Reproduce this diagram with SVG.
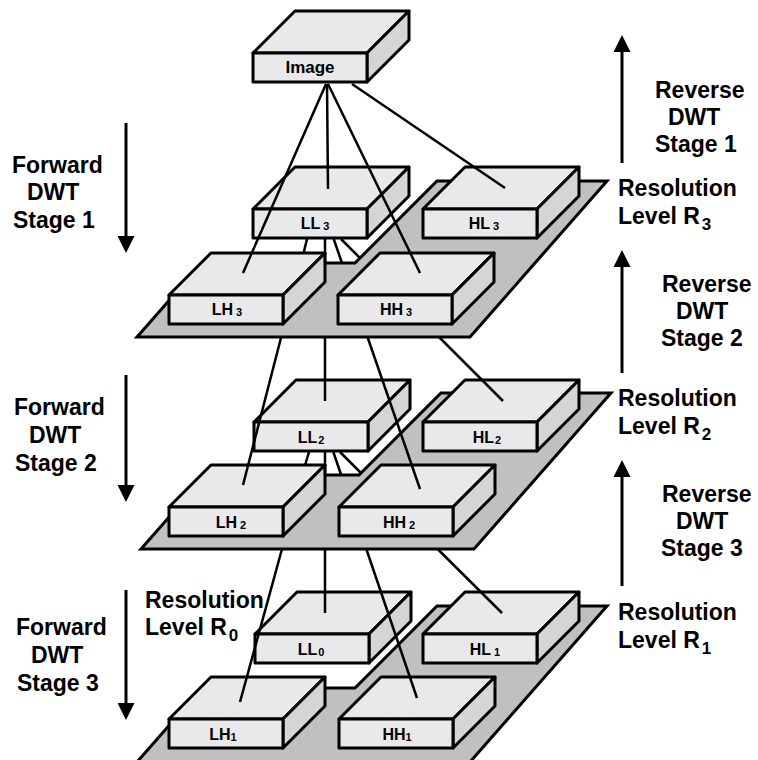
<svg xmlns="http://www.w3.org/2000/svg" width="758" height="760" viewBox="0 0 758 760">
<defs>
<style>
.face{fill:#E9E8EA;stroke:#000;stroke-width:3;stroke-linejoin:round}
.side{fill:#D5D5D5;stroke:#000;stroke-width:3;stroke-linejoin:round}
.plat{fill:#C0C0C0;stroke:#000;stroke-width:3;stroke-linejoin:miter}
.conn line{stroke:#000;stroke-width:2.5;fill:none}
.arr{stroke:#000;stroke-width:3;fill:none}
text{font-family:"Liberation Sans",Arial,Helvetica,sans-serif;font-weight:bold;fill:#000}
.lbl{font-size:23px}
.bx{font-size:16px;text-anchor:middle}
.sub{font-size:11px}
.rsub{font-size:17px}
</style>
<marker id="ah" viewBox="0 0 17 17" refX="8" refY="8.5" markerWidth="17" markerHeight="17" markerUnits="userSpaceOnUse" orient="auto">
<path d="M0,0 L17,8.5 L0,17 z" fill="#000"/>
</marker>
</defs>
<rect width="758" height="760" fill="#fff"/>

<g id="labels">
<text class="lbl" x="12" y="173">Forward</text>
<text class="lbl" x="27" y="200">DWT</text>
<text class="lbl" x="13" y="228">Stage 1</text>
<text class="lbl" x="14" y="415">Forward</text>
<text class="lbl" x="29" y="443">DWT</text>
<text class="lbl" x="15" y="471">Stage 2</text>
<text class="lbl" x="16" y="635">Forward</text>
<text class="lbl" x="31" y="663">DWT</text>
<text class="lbl" x="17" y="691">Stage 3</text>
<text class="lbl" x="655" y="98">Reverse</text>
<text class="lbl" x="668" y="125">DWT</text>
<text class="lbl" x="655" y="152">Stage 1</text>
<text class="lbl" x="662" y="292">Reverse</text>
<text class="lbl" x="676" y="319">DWT</text>
<text class="lbl" x="661" y="346">Stage 2</text>
<text class="lbl" x="662" y="502">Reverse</text>
<text class="lbl" x="676" y="529">DWT</text>
<text class="lbl" x="661" y="556">Stage 3</text>
<text class="lbl" x="618" y="196">Resolution</text>
<text class="lbl" x="618" y="224">Level R<tspan class="rsub" dx="2" dy="6">3</tspan></text>
<text class="lbl" x="618" y="406">Resolution</text>
<text class="lbl" x="618" y="434">Level R<tspan class="rsub" dx="2" dy="6">2</tspan></text>
<text class="lbl" x="618" y="620">Resolution</text>
<text class="lbl" x="618" y="648">Level R<tspan class="rsub" dx="2" dy="6">1</tspan></text>
<text class="lbl" x="145" y="608">Resolution</text>
<text class="lbl" x="145" y="635">Level R<tspan class="rsub" dx="2" dy="6">0</tspan></text>
</g>

<g id="arrows">
<line class="arr" x1="126" y1="123" x2="126" y2="244" marker-end="url(#ah)"/>
<line class="arr" x1="126" y1="375" x2="126" y2="493" marker-end="url(#ah)"/>
<line class="arr" x1="126" y1="590" x2="126" y2="711" marker-end="url(#ah)"/>
<line class="arr" x1="622" y1="163" x2="622" y2="44" marker-end="url(#ah)"/>
<line class="arr" x1="622" y1="373" x2="622" y2="259" marker-end="url(#ah)"/>
<line class="arr" x1="622" y1="586" x2="622" y2="469" marker-end="url(#ah)"/>
</g>

<g id="level1">
<polygon id="platform1" class="plat" points="137,762 470,762 607,606 437,606 355,688 202,688"/>
<g id="LL0">
<polygon class="face" points="255,634 297,592 411,592 369,634"/>
<polygon class="side" points="369,634 411,592 411,621 369,663"/>
<rect class="face" x="255" y="634" width="114" height="29"/>
<text class="bx" x="311" y="655">LL<tspan class="sub" dx="1" dy="1">0</tspan></text>
</g>
<g id="HL1">
<polygon class="face" points="423,634 465,592 579,592 537,634"/>
<polygon class="side" points="537,634 579,592 579,621 537,663"/>
<rect class="face" x="423" y="634" width="114" height="29"/>
<text class="bx" x="485" y="655">HL<tspan class="sub" dx="3" dy="1">1</tspan></text>
</g>
<g id="LH1">
<polygon class="face" points="169,719 211,677 325,677 283,719"/>
<polygon class="side" points="283,719 325,677 325,706 283,748"/>
<rect class="face" x="169" y="719" width="114" height="29"/>
<text class="bx" x="223" y="740">LH<tspan class="sub" dx="0" dy="1">1</tspan></text>
</g>
<g id="HH1">
<polygon class="face" points="339,719 381,677 495,677 453,719"/>
<polygon class="side" points="453,719 495,677 495,706 453,748"/>
<rect class="face" x="339" y="719" width="114" height="29"/>
<text class="bx" x="397" y="740">HH<tspan class="sub" dx="0" dy="1">1</tspan></text>
</g>
</g>

<g id="level2">
<polygon id="platform2" class="plat" points="141,549 474,549 611,393 441,393 359,475 206,475"/>
<g id="LL2">
<polygon class="face" points="254,422 296,380 410,380 368,422"/>
<polygon class="side" points="368,422 410,380 410,409 368,451"/>
<rect class="face" x="254" y="422" width="114" height="29"/>
<text class="bx" x="311" y="443">LL<tspan class="sub" dx="1" dy="1">2</tspan></text>
</g>
<g id="HL2">
<polygon class="face" points="423,422 465,380 579,380 537,422"/>
<polygon class="side" points="537,422 579,380 579,409 537,451"/>
<rect class="face" x="423" y="422" width="114" height="29"/>
<text class="bx" x="487" y="443">HL<tspan class="sub" dx="1" dy="1">2</tspan></text>
</g>
<g id="LH2">
<polygon class="face" points="169,507 211,465 325,465 283,507"/>
<polygon class="side" points="283,507 325,465 325,494 283,536"/>
<rect class="face" x="169" y="507" width="114" height="29"/>
<text class="bx" x="231" y="528">LH<tspan class="sub" dx="3" dy="1">2</tspan></text>
</g>
<g id="HH2">
<polygon class="face" points="339,507 381,465 495,465 453,507"/>
<polygon class="side" points="453,507 495,465 495,494 453,536"/>
<rect class="face" x="339" y="507" width="114" height="29"/>
<text class="bx" x="399" y="528">HH<tspan class="sub" dx="3" dy="1">2</tspan></text>
</g>
</g>

<g id="level3">
<polygon id="platform3" class="plat" points="137,337 470,337 607,181 437,181 355,263 202,263"/>
<g id="LL3">
<polygon class="face" points="253,209 295,167 409,167 367,209"/>
<polygon class="side" points="367,209 409,167 409,196 367,238"/>
<rect class="face" x="253" y="209" width="114" height="29"/>
<text class="bx" x="315" y="229">LL<tspan class="sub" dx="3" dy="1">3</tspan></text>
</g>
<g id="HL3">
<polygon class="face" points="423,209 465,167 579,167 537,209"/>
<polygon class="side" points="537,209 579,167 579,196 537,238"/>
<rect class="face" x="423" y="209" width="114" height="29"/>
<text class="bx" x="484" y="229">HL<tspan class="sub" dx="3" dy="1">3</tspan></text>
</g>
<g id="LH3">
<polygon class="face" points="169,295 211,253 325,253 283,295"/>
<polygon class="side" points="283,295 325,253 325,282 283,324"/>
<rect class="face" x="169" y="295" width="114" height="29"/>
<text class="bx" x="227" y="315">LH<tspan class="sub" dx="3" dy="1">3</tspan></text>
</g>
<g id="HH3">
<polygon class="face" points="338,295 380,253 494,253 452,295"/>
<polygon class="side" points="452,295 494,253 494,282 452,324"/>
<rect class="face" x="338" y="295" width="114" height="29"/>
<text class="bx" x="396" y="315">HH<tspan class="sub" dx="3" dy="1">3</tspan></text>
</g>
</g>

<g id="Image">
<polygon class="face" points="253,53 295,11 409,11 367,53"/>
<polygon class="side" points="367,53 409,11 409,40 367,82"/>
<rect class="face" x="253" y="53" width="114" height="29"/>
<text x="310" y="73" style="font-size:17px;text-anchor:middle">Image</text>
</g>

<g id="connectors" class="conn">
<line x1="326" y1="84" x2="243" y2="273"/>
<line x1="327" y1="84" x2="328" y2="189"/>
<line x1="328" y1="84" x2="420" y2="273"/>
<line x1="352" y1="84" x2="505" y2="188"/>
<line x1="307" y1="239" x2="303.6" y2="253"/>
<line x1="281.2" y1="337" x2="243" y2="485"/>
<line x1="325" y1="239" x2="325" y2="263"/>
<line x1="325" y1="337" x2="325" y2="401"/>
<line x1="333.7" y1="239" x2="342" y2="263"/>
<line x1="367.5" y1="337" x2="420" y2="489"/>
<line x1="341" y1="239" x2="360" y2="258"/>
<line x1="439" y1="337" x2="503" y2="401"/>
<line x1="309" y1="452" x2="305.1" y2="465"/>
<line x1="282" y1="549" x2="240" y2="702"/>
<line x1="325" y1="452" x2="325" y2="475"/>
<line x1="325" y1="549" x2="325" y2="613"/>
<line x1="333.3" y1="452" x2="341.2" y2="475"/>
<line x1="366.3" y1="549" x2="417" y2="698"/>
<line x1="340" y1="452" x2="361" y2="473"/>
<line x1="437.6" y1="549" x2="502" y2="613"/>
</g>
</svg>
